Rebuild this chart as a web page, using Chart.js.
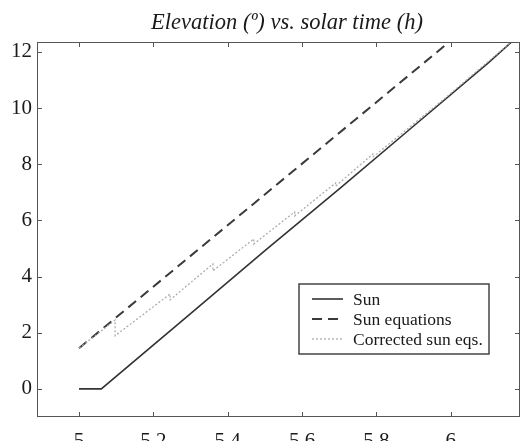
<!DOCTYPE html>
<html>
<head>
<meta charset="utf-8">
<script src="https://cdn.jsdelivr.net/npm/chart.js@4.4.1/dist/chart.umd.min.js"></script>
<style>
  html, body { margin: 0; padding: 0; background: #fff; overflow: hidden; }
  #wrap { position: relative; width: 524px; height: 460px; }
</style>
</head>
<body>
<div id="wrap"><canvas id="elevChart"></canvas></div>
<script>
const titleText = 'Elevation (º) vs. solar time (h)';
const xTicks = [5, 5.2, 5.4, 5.6, 5.8, 6];
const yTicks = [0, 2, 4, 6, 8, 10, 12];
const legendLabels = ['Sun', 'Sun equations', 'Corrected sun eqs.'];

// Sun (solid)
const sunTime = [5.0, 5.06, 5.3, 5.5, 5.7, 5.9, 6.1, 6.18];
const sunElev = [0, 0, 2.68, 4.92, 7.12, 9.36, 11.6, 12.55];

// Sun equations (dashed)
const eqTime = [5.0, 6.0];
const eqElev = [1.45, 12.4];

// Corrected sun eqs. (dotted, saw-tooth)
const corrTime = [5.0, 5.097, 5.097, 5.245, 5.245, 5.36, 5.36, 5.47, 5.47, 5.58, 5.58, 5.69, 5.69, 5.79, 5.79, 5.98, 6.18];
const corrElev = [1.45, 2.45, 1.89, 3.38, 3.17, 4.45, 4.2, 5.34, 5.16, 6.3, 6.16, 7.33, 7.22, 8.36, 8.25, 10.3, 12.55];

const serif = '"Liberation Serif", "DejaVu Serif", serif';
const toPts = (xs, ys) => xs.map((x, i) => ({ x: x, y: ys[i] }));

const boxPlugin = {
  id: 'boxPlugin',
  afterDraw(chart) {
    const { ctx, chartArea: a } = chart;
    const xs = chart.scales.x, ys = chart.scales.y;
    ctx.save();
    ctx.strokeStyle = '#555';
    ctx.lineWidth = 1;
    ctx.strokeRect(a.left + 0.5, a.top + 0.5, a.right - a.left - 1, a.bottom - a.top - 1);
    ctx.beginPath();
    xTicks.forEach(v => {
      const px = Math.round(xs.getPixelForValue(v)) + 0.5;
      ctx.moveTo(px, a.bottom); ctx.lineTo(px, a.bottom - 5);
      ctx.moveTo(px, a.top); ctx.lineTo(px, a.top + 5);
    });
    yTicks.forEach(v => {
      const py = Math.round(ys.getPixelForValue(v)) + 0.5;
      ctx.moveTo(a.left, py); ctx.lineTo(a.left + 5, py);
      ctx.moveTo(a.right, py); ctx.lineTo(a.right - 5, py);
    });
    ctx.stroke();

    // title
    ctx.fillStyle = '#1a1a1a';
    ctx.font = 'italic 22.5px ' + serif;
    ctx.textAlign = 'center';
    ctx.textBaseline = 'alphabetic';
    ctx.fillText(titleText, 287, 29);

    // legend
    const lx = 299, ly = 284, lw = 190, lh = 70;
    ctx.fillStyle = '#fff';
    ctx.fillRect(lx, ly, lw, lh);
    ctx.strokeStyle = '#444';
    ctx.lineWidth = 1.5;
    ctx.strokeRect(lx, ly, lw, lh);
    ctx.font = '17.5px ' + serif;
    ctx.textAlign = 'left';
    ctx.textBaseline = 'middle';
    chart.data.datasets.forEach((ds, i) => {
      const y = ly + 15 + i * 20;
      ctx.beginPath();
      ctx.strokeStyle = ds.borderColor;
      ctx.lineWidth = ds.borderWidth;
      ctx.setLineDash(ds.borderDash || []);
      ctx.moveTo(lx + 13, y);
      ctx.lineTo(lx + 44, y);
      ctx.stroke();
      ctx.setLineDash([]);
      ctx.fillStyle = '#1a1a1a';
      ctx.fillText(ds.label, lx + 54, y + 1);
    });
    ctx.restore();
  }
};

new Chart(document.getElementById('elevChart').getContext('2d'), {
  type: 'line',
  data: {
    datasets: [
      {
        label: legendLabels[0],
        data: toPts(sunTime, sunElev),
        borderColor: '#333',
        borderWidth: 1.6,
        pointRadius: 0,
        order: 1
      },
      {
        label: legendLabels[1],
        data: toPts(eqTime, eqElev),
        borderColor: '#3a3a3a',
        borderWidth: 2,
        borderDash: [10, 6],
        pointRadius: 0,
        order: 2
      },
      {
        label: legendLabels[2],
        data: toPts(corrTime, corrElev),
        borderColor: '#a8a8a8',
        borderWidth: 1.2,
        borderDash: [2, 2],
        pointRadius: 0,
        order: 0
      }
    ]
  },
  options: {
    responsive: true,
    maintainAspectRatio: false,
    animation: false,
    layout: { padding: { top: 42, right: 4, left: 0, bottom: 0 } },
    plugins: {
      legend: { display: false },
      title: { display: false },
      tooltip: { enabled: false }
    },
    scales: {
      x: {
        type: 'linear',
        min: 4.887,
        max: 6.186,
        afterBuildTicks: s => { s.ticks = xTicks.map(v => ({ value: v })); },
        afterFit: s => { s.height = 43; },
        grid: { display: false, drawTicks: false },
        border: { display: false },
        ticks: {
          padding: 12,
          color: '#1a1a1a',
          font: { family: serif, size: 21 },
          callback: v => String(v),
          maxRotation: 0
        }
      },
      y: {
        type: 'linear',
        min: -1,
        max: 12.35,
        afterBuildTicks: s => { s.ticks = yTicks.map(v => ({ value: v })); },
        afterFit: s => { s.width = 37; },
        grid: { display: false, drawTicks: false },
        border: { display: false },
        ticks: {
          padding: 5,
          color: '#1a1a1a',
          font: { family: serif, size: 21 },
          callback: v => String(v)
        }
      }
    }
  },
  plugins: [boxPlugin]
});
</script>
</body>
</html>
